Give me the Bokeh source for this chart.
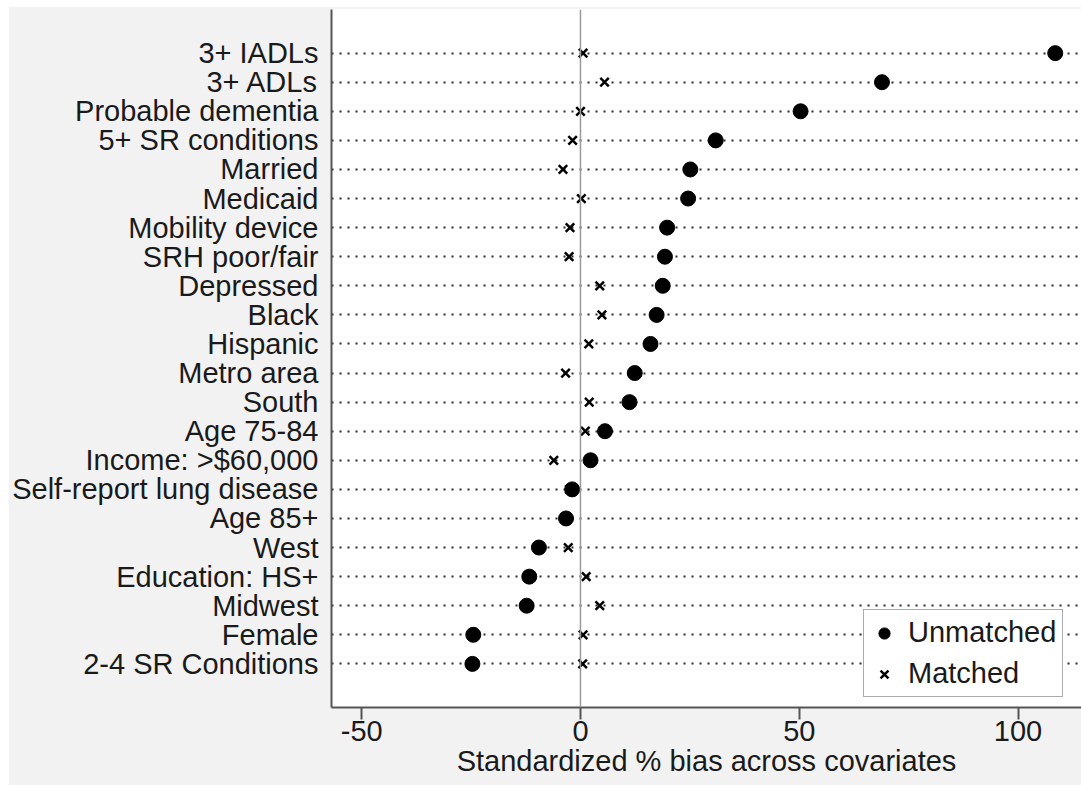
from bokeh.plotting import figure
from bokeh.models import Range1d, FixedTicker, Span, Legend, LegendItem, ColumnDataSource
from bokeh.embed import file_html
from bokeh.resources import INLINE

categories = ["3+ IADLs", "3+ ADLs", "Probable dementia", "5+ SR conditions", "Married",
              "Medicaid", "Mobility device", "SRH poor/fair", "Depressed", "Black",
              "Hispanic", "Metro area", "South", "Age 75-84", "Income: >$60,000",
              "Self-report lung disease", "Age 85+", "West", "Education: HS+", "Midwest",
              "Female", "2-4 SR Conditions"]
unmatched = [108.5, 68.9, 50.3, 30.9, 25.1, 24.6, 19.8, 19.3, 18.8, 17.4,
             16.0, 12.4, 11.2, 5.6, 2.3, -1.9, -3.3, -9.5, -11.7, -12.3,
             -24.5, -24.7]
matched = [0.6, 5.5, 0.0, -1.8, -4.0, 0.2, -2.4, -2.6, 4.4, 4.9,
           1.9, -3.4, 2.0, 1.1, -6.1, -2.5, -3.3, -2.8, 1.3, 4.4,
           0.6, 0.5]
x_ticks = [-50, 0, 50, 100]
x_tick_labels = ["-50", "0", "50", "100"]

FONT = "Liberation Sans"
rows = list(range(len(categories)))
src = ColumnDataSource(dict(y=rows, unmatched=unmatched, matched=matched))

p = figure(width=1073, height=779, output_backend="svg", toolbar_location=None,
           x_range=Range1d(-56.9, 114.5),
           y_range=Range1d(len(categories) - 1 + 1.5, -1.5),
           min_border_left=323, min_border_top=3, min_border_bottom=78, min_border_right=0)
p.margin = (6, 0, 0, 8)
p.background_fill_color = "white"
p.border_fill_color = "#f2f2f2"
p.outline_line_color = None

# axes
p.xaxis.ticker = FixedTicker(ticks=x_ticks)
p.xaxis.major_label_overrides = {t: s for t, s in zip(x_ticks, x_tick_labels)}
p.xaxis.axis_label = "Standardized % bias across covariates"
p.yaxis.ticker = FixedTicker(ticks=rows)
p.yaxis.major_label_overrides = {i: c for i, c in enumerate(categories)}
for ax in (p.xaxis[0], p.yaxis[0]):
    ax.axis_line_color = "#555555"
    ax.axis_line_width = 2
    ax.major_tick_line_color = "#555555"
    ax.major_tick_line_width = 2
    ax.minor_tick_line_color = None
    ax.major_label_text_font = FONT
    ax.major_label_text_font_size = "29px"
    ax.major_label_text_color = "#1a1a1a"
    ax.axis_label_text_font = FONT
    ax.axis_label_text_font_size = "29px"
    ax.axis_label_text_font_style = "normal"
    ax.axis_label_text_color = "#1a1a1a"
p.xaxis.major_tick_out = 12
p.xaxis.major_tick_in = 0
p.xaxis.major_label_standoff = 1
p.xaxis.axis_label_standoff = 1
p.yaxis.major_tick_out = 0
p.yaxis.major_tick_in = 0
p.yaxis.major_label_standoff = 13

# grid: dotted row lines only
p.xgrid.grid_line_color = None
p.ygrid.ticker = FixedTicker(ticks=rows)
p.ygrid.grid_line_color = "#2a2a2a"
p.ygrid.grid_line_width = 2
p.ygrid.grid_line_dash = "2 6"

p.add_layout(Span(location=0, dimension="height", line_color="#9a9a9a", line_width=1.5))

r_un = p.scatter("unmatched", "y", source=src, marker="circle", size=15,
                 fill_color="black", line_color="black")
r_m = p.scatter("matched", "y", source=src, marker="x", size=12,
                line_color="black", line_width=2.5)

legend = Legend(items=[LegendItem(label="Unmatched", renderers=[r_un]),
                       LegendItem(label="Matched", renderers=[r_m])],
                location=(532, 10), orientation="vertical")
legend.label_text_font = FONT
legend.label_text_font_size = "29px"
legend.label_text_color = "#1a1a1a"
legend.border_line_color = "#555555"
legend.border_line_width = 1.5
legend.background_fill_color = "white"
legend.background_fill_alpha = 1
legend.padding = 6
legend.margin = 0
legend.spacing = 8
legend.glyph_width = 28
legend.glyph_height = 32
legend.label_height = 32
legend.label_standoff = 10
p.add_layout(legend)

open("out.html", "w").write(file_html(p, INLINE))
